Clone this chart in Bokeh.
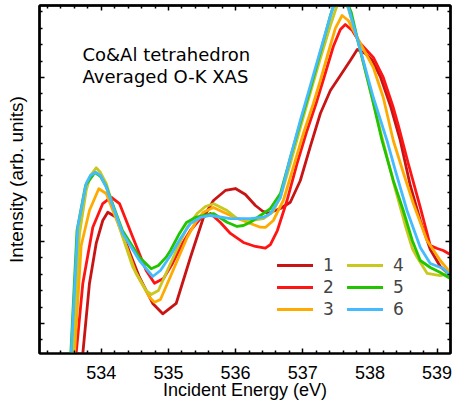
from bokeh.plotting import figure
from bokeh.models import (Range1d, LinearAxis, FixedTicker, Legend,
                          LegendItem, Label)
from bokeh.embed import file_html
from bokeh.resources import INLINE

# ---- data (Incident energy in eV, intensity arb. units) ----
energy_1 = [533.661, 533.725, 533.824, 533.924, 534.022, 534.097, 534.222, 534.371, 534.568, 534.766,
            534.915, 535.115, 535.327, 535.521, 535.670, 535.848, 535.997, 536.146, 536.295, 536.399,
            536.488, 536.667, 536.815, 536.964, 537.113, 537.262, 537.411, 537.560, 537.708, 537.812,
            537.932, 538.036, 538.155, 538.304, 538.452, 538.601, 538.750, 538.899, 539.048, 539.196]
intensity_1 = [0.061, 0.634, 1.488, 1.976, 2.256, 2.357, 2.296, 1.976, 1.565, 1.244,
               1.118, 1.244, 1.805, 2.293, 2.500, 2.622, 2.646, 2.573, 2.439, 2.372,
               2.345, 2.402, 2.479, 2.744, 3.159, 3.561, 3.841, 4.024, 4.207, 4.341,
               4.293, 4.207, 4.012, 3.659, 3.232, 2.683, 2.256, 1.902, 1.695, 1.585]

energy_2 = [533.571, 533.626, 533.725, 533.874, 534.022, 534.147, 534.271, 534.469, 534.668, 534.792,
            534.926, 535.060, 535.208, 535.327, 535.476, 535.625, 535.774, 535.923, 536.116, 536.295,
            536.443, 536.518, 536.622, 536.766, 536.915, 537.064, 537.213, 537.321, 537.455, 537.560,
            537.634, 537.738, 537.857, 538.051, 538.199, 538.348, 538.423, 538.571, 538.750, 538.899,
            539.003, 539.092, 539.196]
intensity_2 = [0.061, 0.634, 1.488, 2.174, 2.463, 2.540, 2.463, 2.052, 1.646, 1.491,
               1.549, 1.732, 1.976, 2.134, 2.280, 2.341, 2.232, 2.098, 1.988, 1.939,
               1.918, 1.963, 2.134, 2.500, 2.951, 3.354, 3.720, 4.012, 4.378, 4.585,
               4.646, 4.573, 4.415, 4.244, 4.000, 3.634, 3.415, 2.951, 2.415, 1.951,
               1.915, 1.890, 1.841]

energy_3 = [533.542, 533.601, 533.701, 533.824, 533.963, 534.073, 534.271, 534.519, 534.717, 534.792,
            534.881, 535.030, 535.278, 535.402, 535.521, 535.670, 535.923, 536.171, 536.369, 536.443,
            536.562, 536.711, 536.860, 537.009, 537.158, 537.262, 537.381, 537.485, 537.585, 537.679,
            537.857, 538.051, 538.199, 538.348, 538.497, 538.646, 538.850, 539.048, 539.196]
intensity_3 = [0.061, 0.634, 1.951, 2.378, 2.643, 2.585, 2.174, 1.610, 1.321, 1.260,
               1.293, 1.573, 2.049, 2.232, 2.357, 2.415, 2.317, 2.235, 2.174, 2.171,
               2.256, 2.500, 2.906, 3.317, 3.683, 3.963, 4.305, 4.598, 4.756, 4.695,
               4.415, 4.122, 3.756, 3.232, 2.841, 2.463, 2.012, 1.768, 1.622]

energy_4 = [533.512, 533.576, 533.676, 533.775, 533.839, 533.924, 533.988, 534.073, 534.271, 534.469,
            534.668, 534.743, 534.851, 535.030, 535.278, 535.427, 535.551, 535.674, 535.873, 536.022,
            536.220, 536.414, 536.548, 536.667, 536.815, 536.964, 537.113, 537.262, 537.411, 537.485,
            537.574, 537.679, 537.738, 537.827, 538.006, 538.185, 538.363, 538.527, 538.631, 538.705,
            538.854, 539.048, 539.196]
intensity_4 = [0.061, 0.634, 2.098, 2.622, 2.805, 2.899, 2.841, 2.707, 2.174, 1.687,
               1.402, 1.354, 1.402, 1.732, 2.174, 2.341, 2.427, 2.460, 2.378, 2.280,
               2.256, 2.280, 2.354, 2.537, 2.951, 3.390, 3.817, 4.232, 4.634, 4.817,
               5.012, 4.841, 4.671, 4.427, 3.841, 3.256, 2.683, 2.195, 1.915, 1.805,
               1.610, 1.585, 1.610]

energy_5 = [533.497, 533.546, 533.638, 533.765, 533.906, 533.988, 534.073, 534.315, 534.568, 534.743,
            534.851, 534.966, 535.030, 535.164, 535.268, 535.402, 535.521, 535.670, 535.873, 536.022,
            536.116, 536.220, 536.369, 536.518, 536.667, 536.815, 536.964, 537.113, 537.262, 537.411,
            537.500, 537.574, 537.649, 537.723, 537.827, 538.031, 538.180, 538.348, 538.497, 538.631,
            538.750, 538.899, 539.048, 539.196]
intensity_5 = [0.061, 0.634, 2.134, 2.683, 2.841, 2.793, 2.671, 2.134, 1.809, 1.667,
               1.707, 1.809, 1.890, 2.098, 2.232, 2.293, 2.317, 2.341, 2.235, 2.183,
               2.195, 2.235, 2.317, 2.402, 2.585, 3.024, 3.451, 3.866, 4.305, 4.756,
               4.976, 5.037, 4.939, 4.793, 4.427, 3.756, 3.232, 2.744, 2.378, 2.012,
               1.768, 1.683, 1.622, 1.549]

energy_6 = [533.504, 533.552, 533.650, 533.775, 533.839, 533.914, 533.988, 534.073, 534.320, 534.568,
            534.766, 534.881, 535.030, 535.179, 535.327, 535.476, 535.625, 535.923, 536.220, 536.418,
            536.518, 536.667, 536.815, 536.964, 537.113, 537.262, 537.436, 537.515, 537.574, 537.634,
            537.693, 537.827, 538.051, 538.254, 538.378, 538.552, 538.750, 538.899, 539.092, 539.196]
intensity_6 = [0.061, 0.634, 2.174, 2.707, 2.805, 2.845, 2.805, 2.662, 2.098, 1.768,
               1.573, 1.646, 1.829, 2.037, 2.220, 2.293, 2.317, 2.280, 2.280, 2.296,
               2.341, 2.537, 3.024, 3.476, 3.902, 4.329, 4.817, 4.976, 5.037, 4.963,
               4.817, 4.427, 3.756, 3.232, 2.866, 2.378, 1.927, 1.732, 1.671, 1.585]

series_labels = ["1", "2", "3", "4", "5", "6"]
series_colors = ["#c81414", "#ff1414", "#ffaa00", "#c8c81e", "#22c400", "#44bbff"]
energies = [energy_1, energy_2, energy_3, energy_4, energy_5, energy_6]
intensities = [intensity_1, intensity_2, intensity_3, intensity_4, intensity_5, intensity_6]

x_major_ticks = [534, 535, 536, 537, 538, 539]
x_minor_ticks = [533.2, 533.4, 533.6, 533.8, 534.2, 534.4, 534.6, 534.8, 535.2, 535.4, 535.6, 535.8,
                 536.2, 536.4, 536.6, 536.8, 537.2, 537.4, 537.6, 537.8, 538.2, 538.4, 538.6, 538.8,
                 539.2]
y_major_ticks = [1, 2, 3, 4]
y_minor_ticks = [0.8, 1.2, 1.4, 1.6, 1.8, 2.2, 2.4, 2.6, 2.8, 3.2, 3.4, 3.6, 3.8, 4.2, 4.4, 4.6, 4.8]

title_lines = ["Co&Al tetrahedron", "Averaged O-K XAS"]

# ---- figure ----
p = figure(width=452, height=403,
           x_range=Range1d(533.08, 539.2), y_range=Range1d(0.634, 4.878),
           output_backend="svg", toolbar_location=None,
           x_axis_location=None, y_axis_location=None,
           min_border_left=39, min_border_right=2, min_border_top=5, min_border_bottom=50)
p.grid.visible = False
p.background_fill_color = "white"
p.border_fill_color = "white"
p.outline_line_color = "black"
p.outline_line_width = 2


def tick_axis(major_positions, minor_positions, length, with_labels=False):
    ax = LinearAxis(ticker=FixedTicker(ticks=major_positions if with_labels else [],
                                       minor_ticks=minor_positions))
    ax.major_tick_in = 5
    ax.major_tick_out = 0
    ax.minor_tick_in = length
    ax.minor_tick_out = 0
    ax.major_tick_line_width = 1.5
    ax.minor_tick_line_width = 1.5
    ax.major_tick_line_color = "black"
    ax.minor_tick_line_color = "black"
    ax.axis_line_width = 2
    ax.axis_line_color = "black"
    ax.major_label_standoff = 0
    return ax


# bottom axis: labelled majors + minors
bottom_axis = tick_axis(x_major_ticks, x_minor_ticks, 3, with_labels=True)
bottom_axis.axis_label = "Incident Energy (eV)"
bottom_axis.axis_label_text_font = "Liberation Sans"
bottom_axis.axis_label_text_font_size = "18px"
bottom_axis.axis_label_text_font_style = "normal"
bottom_axis.axis_label_text_color = "black"
bottom_axis.axis_label_standoff = -2
bottom_axis.major_label_text_font = "Liberation Sans"
bottom_axis.major_label_text_font_size = "18px"
bottom_axis.major_label_text_color = "black"
bottom_axis.major_label_standoff = 12
p.add_layout(bottom_axis, "below")

# left: inner major-tick axis, then minor-tick axis carrying the title
left_major = tick_axis([], y_major_ticks, 5)
left_minor = tick_axis([], y_minor_ticks, 3)
left_minor.axis_label = "Intensity (arb. units)"
left_minor.axis_label_text_font = "Liberation Sans"
left_minor.axis_label_text_font_size = "19px"
left_minor.axis_label_text_font_style = "normal"
left_minor.axis_label_text_color = "black"
left_minor.axis_label_standoff = 13
p.add_layout(left_major, "left")
p.add_layout(left_minor, "left")

# top and right: mirrored ticks without labels
p.add_layout(tick_axis([], x_major_ticks, 5), "above")
p.add_layout(tick_axis([], x_minor_ticks, 3), "above")
p.add_layout(tick_axis([], y_major_ticks, 5), "right")
p.add_layout(tick_axis([], y_minor_ticks, 3), "right")

renderers = []
for xs, ys, c in zip(energies, intensities, series_colors):
    r = p.line(xs, ys, line_color=c, line_width=2.8, line_join="round", line_cap="round")
    renderers.append(r)

legend = Legend(items=[LegendItem(label=l, renderers=[r]) for l, r in zip(series_labels, renderers)],
                ncols=2, location=(238, 34),
                label_text_font="DejaVu Sans", label_text_font_size="17px",
                glyph_width=36, glyph_height=20, label_height=20, label_width=22,
                label_standoff=10, spacing=2, padding=0, margin=0,
                border_line_alpha=0, background_fill_alpha=0)
p.add_layout(legend)

p.add_layout(Label(x=533.72, y=4.277, text=title_lines[0], text_font="DejaVu Sans",
                   text_font_size="18px", text_baseline="alphabetic", text_color="black"))
p.add_layout(Label(x=533.72, y=4.012, text=title_lines[1], text_font="DejaVu Sans",
                   text_font_size="18px", text_baseline="alphabetic", text_color="black"))

open("out.html", "w").write(file_html(p, INLINE))
